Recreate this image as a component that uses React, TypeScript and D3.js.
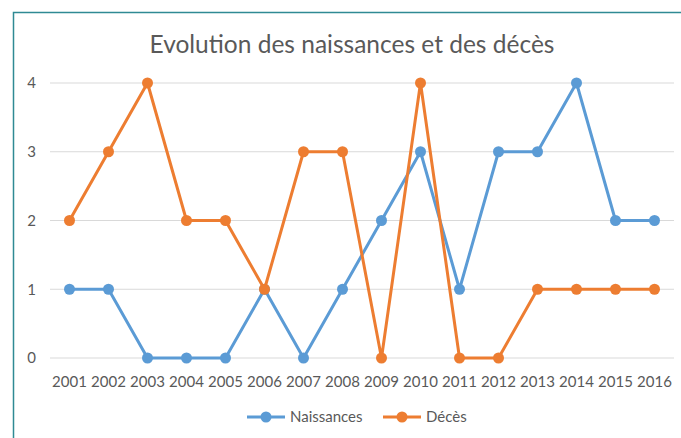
import React, { useEffect, useRef } from "react";
import * as d3 from "d3";

const years = ["2001","2002","2003","2004","2005","2006","2007","2008","2009","2010","2011","2012","2013","2014","2015","2016"];
const naissances = [1, 1, 0, 0, 0, 1, 0, 1, 2, 3, 1, 3, 3, 4, 2, 2];
const deces = [2, 3, 4, 2, 2, 1, 3, 3, 0, 4, 0, 0, 1, 1, 1, 1];
const yTicks = [0, 1, 2, 3, 4];

const series = [
  { name: "Naissances", values: naissances, color: "#5B9BD5" },
  { name: "Décès", values: deces, color: "#ED7D31" },
];

const App = () => {
  const ref = useRef<SVGSVGElement>(null);

  useEffect(() => {
    const width = 681;
    const height = 438;
    const margin = { top: 83, right: 7, bottom: 80, left: 50 };
    const font = "Lato, 'Open Sans', sans-serif";

    const svg = d3.select(ref.current);
    svg.selectAll("*").remove();

    svg.append("rect").attr("width", width).attr("height", height).attr("fill", "#fff");

    // border (top and left visible)
    svg.append("path")
      .attr("d", `M13.5,${height} L13.5,12.5 L${width},12.5`)
      .attr("fill", "none")
      .attr("stroke", "#2F8A94")
      .attr("stroke-width", 1.5);

    const x = d3.scaleBand()
      .domain(years)
      .range([margin.left, width - margin.right]);

    const y = d3.scaleLinear()
      .domain([0, 4])
      .range([height - margin.bottom, margin.top]);

    // grid
    svg.append("g")
      .selectAll("line")
      .data(yTicks)
      .enter()
      .append("line")
      .attr("x1", margin.left)
      .attr("x2", width - margin.right)
      .attr("y1", d => y(d))
      .attr("y2", d => y(d))
      .attr("stroke", "#D9D9D9")
      .attr("stroke-width", 1);

    svg.append("g")
      .selectAll("text")
      .data(yTicks)
      .enter()
      .append("text")
      .attr("x", 36)
      .attr("y", d => y(d))
      .attr("dy", "0.35em")
      .attr("text-anchor", "end")
      .attr("font-family", font)
      .attr("font-size", 15)
      .attr("fill", "#595959")
      .text(d => d);

    svg.append("g")
      .selectAll("text")
      .data(years)
      .enter()
      .append("text")
      .attr("x", d => (x(d) ?? 0) + x.bandwidth() / 2)
      .attr("y", 387)
      .attr("text-anchor", "middle")
      .attr("font-family", font)
      .attr("font-size", 15)
      .attr("fill", "#595959")
      .text(d => d);

    svg.append("text")
      .attr("x", 352)
      .attr("y", 53)
      .attr("text-anchor", "middle")
      .attr("font-family", font)
      .attr("font-size", 24.5)
      .attr("fill", "#595959")
      .text("Evolution des naissances et des décès");

    const line = d3.line<number>()
      .x((_, i) => (x(years[i]) ?? 0) + x.bandwidth() / 2)
      .y(d => y(d));

    series.forEach(s => {
      svg.append("path")
        .datum(s.values)
        .attr("fill", "none")
        .attr("stroke", s.color)
        .attr("stroke-width", 3)
        .attr("stroke-linejoin", "round")
        .attr("d", line);

      svg.append("g")
        .selectAll("circle")
        .data(s.values)
        .enter()
        .append("circle")
        .attr("cx", (_, i) => (x(years[i]) ?? 0) + x.bandwidth() / 2)
        .attr("cy", d => y(d))
        .attr("r", 5.5)
        .attr("fill", s.color);
    });

    // legend
    const legendX = [247, 383];
    const legend = svg.append("g");
    series.forEach((s, i) => {
      const lx = legendX[i];
      legend.append("line")
        .attr("x1", lx).attr("x2", lx + 38)
        .attr("y1", 417).attr("y2", 417)
        .attr("stroke", s.color)
        .attr("stroke-width", 3);
      legend.append("circle")
        .attr("cx", lx + 19).attr("cy", 417).attr("r", 5.5)
        .attr("fill", s.color);
      legend.append("text")
        .attr("x", lx + 43)
        .attr("y", 417)
        .attr("dy", "0.35em")
        .attr("font-family", font)
        .attr("font-size", 15)
        .attr("fill", "#595959")
        .text(s.name);
    });
  }, []);

  return (
    <div style={{ position: "fixed", left: 0, top: 0 }}>
      <svg ref={ref} width={681} height={438} style={{ display: "block" }}></svg>
    </div>
  );
};

export default App;
